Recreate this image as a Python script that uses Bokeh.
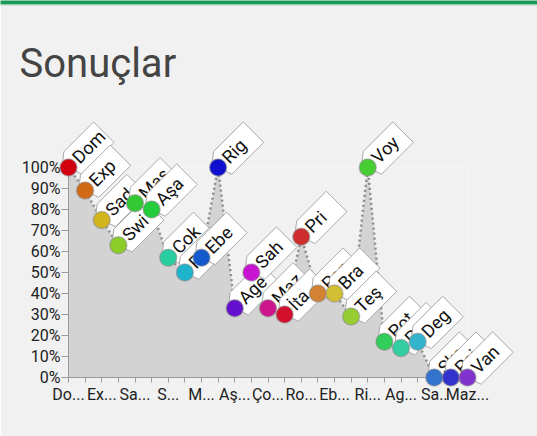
import math
from bokeh.plotting import figure
from bokeh.models import Range1d, FixedTicker, PrintfTickFormatter
from bokeh.core.properties import value
from bokeh.embed import file_html
from bokeh.resources import INLINE

# ---- data ----
names = ["Dom", "Exp", "Sad", "Swi", "Mas", "Aşa", "Cok", "Rom", "Ebe", "Rig", "Age", "Sah", "Maz",
         "İta", "Pri", "Pop", "Bra", "Teş", "Voy", "Pot", "Pun", "Deg", "Ska", "Psi", "Van"]
values = [100, 89, 75, 63, 83, 80, 57, 50, 57, 100, 33, 50, 33,
          30, 67, 40, 40, 29, 100, 17, 14, 17, 0, 0, 0]
colors = ["#d2000f", "#d26914", "#d2b41e", "#8ccd28", "#32c832", "#23cd3c", "#28cda0", "#1eb4cd",
          "#145acd", "#0f0fcd", "#640fcd", "#c814d2", "#cd148c", "#d20f2d", "#cd2d2d", "#d28232",
          "#d2be32", "#96cd32", "#46cd32", "#32cd5a", "#32cda0", "#32b4cd", "#3273cd", "#3232cd",
          "#8232cd"]
x_tick_labels = ["Do...", "Ex...", "Sa...", "S...", "M...", "Aş...", "Ço...", "Ro...", "Eb...",
                 "Ri...", "Ag...", "Sa..", "Maz..."]
y_ticks = [0, 10, 20, 30, 40, 50, 60, 70, 80, 90, 100]
title_text = "Sonuçlar"

xs = list(range(len(values)))

W, H = 537, 436
FL, FT = 68, 167
FW, FH = 399, 210
BG = "#f1f1f1"
FONT = "Roboto"

p = figure(width=W, height=H, output_backend="svg", toolbar_location=None,
           x_range=Range1d(0, len(values) - 1), y_range=Range1d(0, 100),
           min_border_left=FL, min_border_right=W - FL - FW,
           min_border_top=FT, min_border_bottom=H - FT - FH)
p.background_fill_color = BG
p.border_fill_color = BG
p.outline_line_color = None
p.grid.visible = False

# axes
ax = p.xaxis[0]
ax.ticker = FixedTicker(ticks=xs[::2], minor_ticks=xs[1::2])
ax.major_label_overrides = {xs[2 * k]: lab for k, lab in enumerate(x_tick_labels)}
ay = p.yaxis[0]
ay.ticker = FixedTicker(ticks=y_ticks, minor_ticks=[])
ay.formatter = PrintfTickFormatter(format="%d%%")
for a in (ax, ay):
    a.axis_line_color = "#9a9a9a"
    a.major_tick_line_color = "#9a9a9a"
    a.minor_tick_line_color = "#9a9a9a"
    a.major_tick_in = 0
    a.minor_tick_in = 0
    a.major_label_text_font = FONT
    a.major_label_text_font_size = "16px"
    a.major_label_text_color = "#222222"
ax.major_tick_out = 5
ax.minor_tick_out = 5
ax.major_label_standoff = 2
ay.major_tick_out = 7
ay.minor_tick_out = 0
ay.major_label_standoff = 1

# area + dotted outline
p.varea(x=xs, y1=[0] * len(values), y2=values, fill_color="#d3d3d3")
p.line(x=xs, y=values, line_color="#8c8c8c", line_width=2.5, line_dash="2 3")

# pixel -> data helpers (fixed frame size)
kx = FW / (len(values) - 1)
ky = FH / 100.0
r2 = math.sqrt(2)

def off(u, v):
    # u: along the 45-degree label direction, v: perpendicular (up-left), both in px
    return (u - v) / r2 / kx, (u + v) / r2 / ky

# callouts
shape = [(8, 14.5), (1, 9), (0, 0), (3, -9), (5, -14.5), (50, -14.5), (50, 14.5)]
tdx, tdy = off(10, -10)
for i, (x, y) in enumerate(zip(xs, values)):
    pts = [off(u, v) for u, v in shape]
    p.patch(x=[x + d[0] for d in pts], y=[y + d[1] for d in pts],
            fill_color="white", line_color="#a8a8a8", line_width=1, level="overlay")
    p.text(x=[x + tdx], y=[y + tdy], text=[names[i]], angle=math.pi / 4,
           text_font=value(FONT), text_font_size="18px", text_color="#111111", level="overlay")
    p.scatter(x=[x], y=[y], size=17, fill_color=colors[i], line_color="#888888",
              line_alpha=0.5, line_width=1.5, level="overlay")

# top bar and title (decoration placed in pixel terms)
p.quad(left=[-FL / kx], right=[(W - FL) / kx], top=[100 + FT / ky], bottom=[100 + (FT - 4) / ky],
       fill_color="#1a985a", line_color=None, level="overlay")
p.quad(left=[-FL / kx], right=[(W - FL) / kx], top=[100 + (FT - 4) / ky], bottom=[100 + (FT - 5) / ky],
       fill_color="#a6dcc0", line_color=None, level="overlay")
p.text(x=[(19 - FL) / kx], y=[100 + (FT - 86) / ky], text=[title_text],
       text_font=value(FONT), text_font_size="40px", text_color="#444444", level="overlay")

open("out.html", "w").write(file_html(p, INLINE))
